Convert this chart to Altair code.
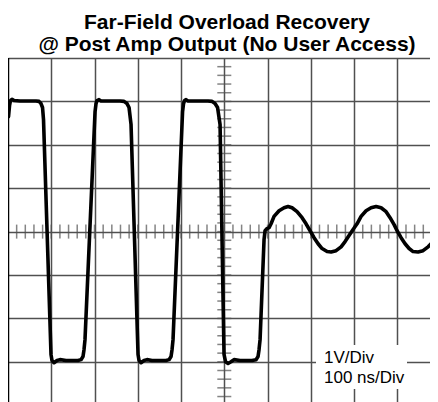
import altair as alt
import pandas as pd

# Waveform: time in ns (100 ns/div), voltage in V (1 V/div)
t_ns = [1.2, 3.5, 5.8, 9.2, 13.9, 27.7, 64.7, 71.7, 76.3, 79.8, 82.1,
        99.4, 101.7, 106.4, 113.3, 120.2, 134.1, 161.8, 168.8, 173.4, 175.7, 178.0,
        201.2, 203.5, 205.8, 210.4, 215.0, 259.0, 268.2, 275.1, 279.8, 284.4,
        300.6, 302.9, 307.5, 314.5, 321.4, 332.9, 365.3, 372.3, 376.9, 379.2, 381.5,
        403.5, 405.8, 408.1, 411.6, 416.2, 462.4, 471.7, 478.6, 484.4, 490.2,
        499.4, 502.9, 508.7, 515.6, 522.5, 536.4, 564.2, 573.4, 578.0, 580.3, 582.7,
        591.9, 594.2, 598.8, 603.5, 608.1, 615.0, 626.6, 638.2, 647.4, 656.6, 668.2,
        679.8, 689.0, 698.3, 707.5, 716.8, 726.0, 737.6, 746.8, 758.4, 770.0, 779.2,
        788.4, 797.7, 806.9, 816.2, 827.7, 839.3, 850.9, 862.4, 874.0, 883.2, 892.5,
        899.4, 908.7, 917.9, 927.2, 936.4, 947.9, 959.5, 971.1, 982.7, 994.2]
volts = [2.65, 2.90, 3.02, 3.05, 3.02, 3.01, 3.01, 3.00, 2.95, 2.86, 2.58,
         -2.83, -2.97, -3.02, -2.97, -2.95, -2.97, -2.97, -2.95, -2.88, -2.72, -2.49,
         2.76, 2.95, 3.02, 3.04, 3.01, 3.01, 3.00, 2.95, 2.86, 2.47,
         -2.83, -2.97, -3.02, -2.97, -2.95, -2.97, -2.97, -2.95, -2.88, -2.72, -2.49,
         2.76, 2.95, 3.02, 3.04, 3.01, 3.01, 3.00, 2.95, 2.86, 2.47,
         -2.83, -3.00, -3.04, -3.00, -2.95, -2.97, -2.97, -2.95, -2.88, -2.72, -2.49,
         -0.18, 0.02, 0.07, 0.09, 0.18, 0.35, 0.48, 0.55, 0.58, 0.55, 0.46,
         0.32, 0.18, 0.02, -0.14, -0.28, -0.39, -0.46, -0.47, -0.44, -0.35, -0.23,
         -0.09, 0.05, 0.18, 0.35, 0.48, 0.55, 0.58, 0.55, 0.46, 0.32, 0.16,
         0.02, -0.14, -0.28, -0.39, -0.46, -0.47, -0.44, -0.35, -0.23, -0.12]

title_lines = ["Far-Field Overload Recovery", "@ Post Amp Output (No User Access)"]
note_lines = ["1V/Div", "100 ns/Div"]

x_grid = [100, 200, 300, 400, 500, 600, 700, 800, 900]
y_grid = [-3, -2, -1, 0, 1, 2, 3, 4]
x_minor = [i * 20 for i in range(1, 49)]
y_minor = [round(-3.8 + i * 0.2, 1) for i in range(0, 39)]

W, H = 422, 344
xs = alt.Scale(domain=[0, 975.5], nice=False, zero=False)
ys = alt.Scale(domain=[-3.926, 4], nice=False, zero=False)

wave = pd.DataFrame({"t": t_ns, "v": volts, "o": list(range(len(t_ns)))})

gcol = "#505050"

base_x = alt.Axis(values=x_grid, grid=True, gridColor=gcol, gridWidth=1.5,
                  labels=False, ticks=False, domain=False, title=None)
base_y = alt.Axis(values=y_grid, grid=True, gridColor=gcol, gridWidth=1.5,
                  labels=False, ticks=False, domain=False, title=None)

trace = alt.Chart(wave).mark_line(color="black", strokeWidth=3.6, clip=True,
                                  strokeJoin="round", strokeCap="round").encode(
    x=alt.X("t:Q", scale=xs, axis=base_x),
    y=alt.Y("v:Q", scale=ys, axis=base_y),
    order="o:Q",
)

xt = alt.Chart(pd.DataFrame({"t": x_minor, "v": [0] * len(x_minor)})).mark_tick(
    orient="vertical", size=14, thickness=1.5, color=gcol).encode(
    x=alt.X("t:Q", scale=xs, axis=base_x), y=alt.Y("v:Q", scale=ys, axis=base_y))

yt = alt.Chart(pd.DataFrame({"t": [500] * len(y_minor), "v": y_minor})).mark_tick(
    orient="horizontal", size=14, thickness=1.5, color=gcol).encode(
    x=alt.X("t:Q", scale=xs, axis=base_x), y=alt.Y("v:Q", scale=ys, axis=base_y))

left = alt.Chart(pd.DataFrame({"t": [0]})).mark_rule(color="black", strokeWidth=2.5).encode(
    x=alt.X("t:Q", scale=xs, axis=base_x))

box = alt.Chart(pd.DataFrame({"a": [0]})).mark_rect(color="white").encode(
    x=alt.value(308), x2=alt.value(399), y=alt.value(287), y2=alt.value(331))

note1 = alt.Chart(pd.DataFrame({"s": [note_lines[0]]})).mark_text(
    align="left", baseline="alphabetic", font="Liberation Sans", fontSize=17,
    color="black").encode(x=alt.value(316), y=alt.value(305), text="s:N")
note2 = alt.Chart(pd.DataFrame({"s": [note_lines[1]]})).mark_text(
    align="left", baseline="alphabetic", font="Liberation Sans", fontSize=17,
    color="black").encode(x=alt.value(316), y=alt.value(325), text="s:N")

chart = alt.layer(xt, yt, trace, left, box, note1, note2).properties(
    width=W, height=H,
    padding={"top": 50, "left": 0, "right": 0, "bottom": 0},
    autosize=alt.AutoSizeParams(type="none"),
    title=alt.TitleParams(text=title_lines, fontSize=21, font="Liberation Sans",
                          fontWeight="bold", anchor="middle", lineHeight=22,
                          offset=2, dx=8, color="black"),
).configure_view(stroke=None)

chart.save("out.html", embed_options={"renderer": "svg", "actions": False})
